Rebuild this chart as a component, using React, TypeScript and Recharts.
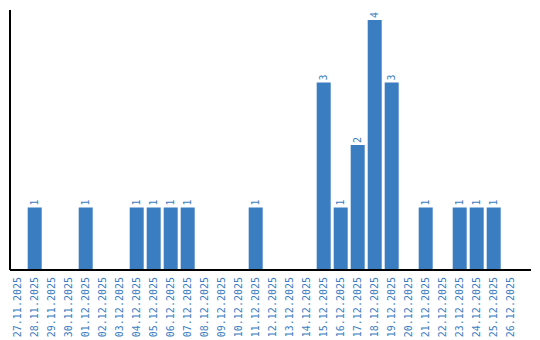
import { BarChart, Bar, XAxis, YAxis, LabelList } from "recharts"

const dates = [
  "27.11.2025", "28.11.2025", "29.11.2025", "30.11.2025", "01.12.2025",
  "02.12.2025", "03.12.2025", "04.12.2025", "05.12.2025", "06.12.2025",
  "07.12.2025", "08.12.2025", "09.12.2025", "10.12.2025", "11.12.2025",
  "12.12.2025", "13.12.2025", "14.12.2025", "15.12.2025", "16.12.2025",
  "17.12.2025", "18.12.2025", "19.12.2025", "20.12.2025", "21.12.2025",
  "22.12.2025", "23.12.2025", "24.12.2025", "25.12.2025", "26.12.2025",
]

const counts = [
  0, 1, 0, 0, 1,
  0, 0, 1, 1, 1,
  1, 0, 0, 0, 1,
  0, 0, 0, 3, 1,
  2, 4, 3, 0, 1,
  0, 1, 1, 1, 0,
]

const BLUE = "#3b7dc1"
const FONT = "'DejaVu Sans Mono', monospace"

const data = dates.map((d, i) => ({ date: d, count: counts[i] }))

function DateTick(props: any) {
  const { x, y, payload } = props
  return (
    <text
      transform={`translate(${x},${y - 1}) rotate(-90)`}
      textAnchor="end"
      dy="0.35em"
      fill={BLUE}
      fontSize={10}
      fontFamily={FONT}
    >
      {payload.value}
    </text>
  )
}

function TopLabel(props: any) {
  const { x, y, width, value } = props
  if (!value) return null
  const cx = x + width / 2
  return (
    <text
      transform={`translate(${cx},${y - 2}) rotate(-90)`}
      textAnchor="start"
      dy="0.35em"
      fill={BLUE}
      fontSize={10}
      fontFamily={FONT}
    >
      {value}
    </text>
  )
}

export default function App() {
  return (
    <div style={{ position: "absolute", left: 0, top: 0, background: "#fff" }}>
      <BarChart
        width={540}
        height={340}
        data={data}
        margin={{ top: 10, right: 9, bottom: 0, left: 9 }}
        barCategoryGap="10%"
      >
        <XAxis
          dataKey="date"
          interval={0}
          height={70}
          padding={{ left: -1, right: 12 }}
          tick={<DateTick />}
          tickLine={false}
          axisLine={{ stroke: "#000", strokeWidth: 2 }}
        />
        <YAxis
          width={1}
          domain={[0, 4]}
          tick={false}
          tickLine={false}
          padding={{ top: 10 }}
          axisLine={{ stroke: "#000", strokeWidth: 2 }}
        />
        <Bar dataKey="count" fill={BLUE} isAnimationActive={false}>
          <LabelList dataKey="count" content={<TopLabel />} />
        </Bar>
      </BarChart>
    </div>
  )
}
